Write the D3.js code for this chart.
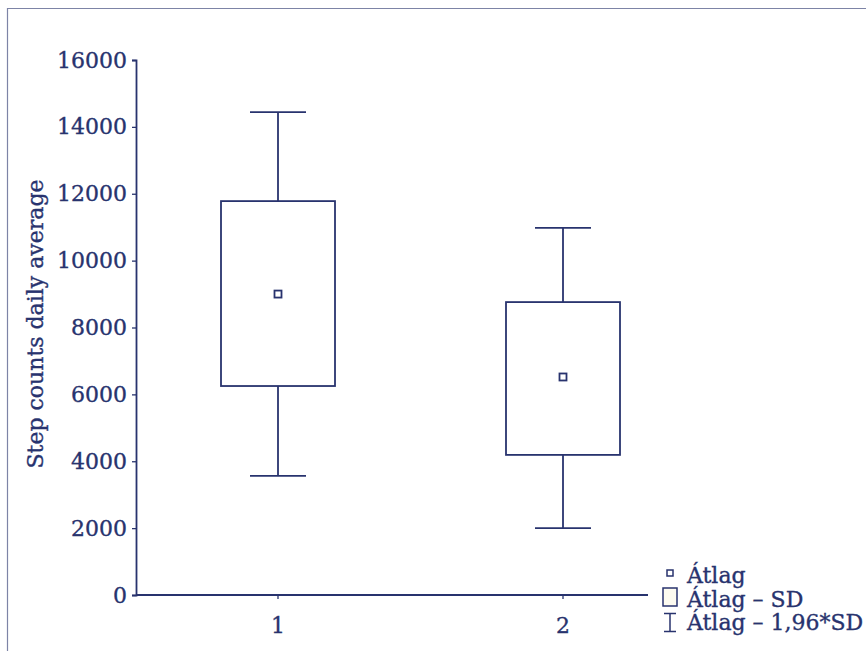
<!DOCTYPE html>
<html>
<head>
<meta charset="utf-8">
<script src="https://cdn.jsdelivr.net/npm/d3@7"></script>
<style>
  body { margin: 0; background: #fff; }
  svg text { font-family: "DejaVu Serif", serif; fill: #28336e; stroke: #28336e; stroke-width: 0.35px; }
</style>
</head>
<body>
<svg id="chart" width="866" height="651"></svg>
<script>
// data
const groups = ['1', '2'];
const means = [9000, 6520];
const sdLow = [6250, 4190];
const sdHigh = [11780, 8760];
const ciLow = [3560, 2000];
const ciHigh = [14440, 10980];
const yTicks = [0, 2000, 4000, 6000, 8000, 10000, 12000, 14000, 16000];
const legendLabels = ['Átlag', 'Átlag – SD', 'Átlag – 1,96*SD'];

const navy = '#28336e';
const lw = 1.8;
const svg = d3.select('#chart');

// outer frame
svg.append('path')
  .attr('d', 'M7.5,651 L7.5,8.5 L866,8.5')
  .attr('fill', 'none')
  .attr('stroke', '#7d84a6')
  .attr('stroke-width', 1.2);

const x = d3.scalePoint().domain(groups).range([278, 563]);
const y = d3.scaleLinear().domain([0, 16000]).range([595, 60]);
const boxW = 114;

// y axis
const yAxis = svg.append('g')
  .attr('transform', 'translate(136,0)')
  .call(d3.axisLeft(y).tickValues(yTicks).tickSize(4).tickPadding(5).tickFormat(d3.format('d')));
yAxis.select('.domain').attr('stroke', navy).attr('stroke-width', lw);
yAxis.selectAll('.tick line').attr('stroke', navy).attr('stroke-width', 1.3);
yAxis.selectAll('.tick text').attr('font-size', 22).attr('font-family', '"DejaVu Serif", serif').attr('fill', navy);

// x axis
svg.append('line')
  .attr('x1', 136).attr('x2', 648).attr('y1', y(0)).attr('y2', y(0))
  .attr('stroke', navy).attr('stroke-width', lw);
const xt = svg.append('g').selectAll('g').data(groups).join('g')
  .attr('transform', d => `translate(${x(d)},${y(0)})`);
xt.append('line').attr('y2', 4).attr('stroke', navy).attr('stroke-width', 1.3);
xt.append('text').attr('y', 38).attr('text-anchor', 'middle').attr('font-size', 22).text(d => d);

// y label
svg.append('text')
  .attr('transform', 'translate(43,324) rotate(-90)')
  .attr('text-anchor', 'middle')
  .attr('font-size', 22)
  .text('Step counts daily average');

// boxes
const g = svg.append('g').selectAll('g').data(groups).join('g');
g.append('line')
  .attr('x1', d => x(d)).attr('x2', d => x(d))
  .attr('y1', (d, i) => y(ciHigh[i])).attr('y2', (d, i) => y(sdHigh[i]))
  .attr('stroke', navy).attr('stroke-width', lw);
g.append('line')
  .attr('x1', d => x(d)).attr('x2', d => x(d))
  .attr('y1', (d, i) => y(sdLow[i])).attr('y2', (d, i) => y(ciLow[i]))
  .attr('stroke', navy).attr('stroke-width', lw);
g.append('line')
  .attr('x1', d => x(d) - 28).attr('x2', d => x(d) + 28)
  .attr('y1', (d, i) => y(ciHigh[i])).attr('y2', (d, i) => y(ciHigh[i]))
  .attr('stroke', navy).attr('stroke-width', lw);
g.append('line')
  .attr('x1', d => x(d) - 28).attr('x2', d => x(d) + 28)
  .attr('y1', (d, i) => y(ciLow[i])).attr('y2', (d, i) => y(ciLow[i]))
  .attr('stroke', navy).attr('stroke-width', lw);
g.append('rect')
  .attr('x', d => x(d) - boxW / 2).attr('width', boxW)
  .attr('y', (d, i) => y(sdHigh[i]))
  .attr('height', (d, i) => y(sdLow[i]) - y(sdHigh[i]))
  .attr('fill', 'none').attr('stroke', navy).attr('stroke-width', lw);
g.append('rect')
  .attr('x', d => x(d) - 3.5).attr('y', (d, i) => y(means[i]) - 3.5)
  .attr('width', 7).attr('height', 7)
  .attr('fill', '#fff').attr('stroke', navy).attr('stroke-width', lw);

// legend
const leg = svg.append('g');
leg.append('rect').attr('x', 667).attr('y', 570).attr('width', 6).attr('height', 6)
  .attr('fill', '#fff').attr('stroke', navy).attr('stroke-width', 1.5);
leg.append('rect').attr('x', 663).attr('y', 588).attr('width', 14).attr('height', 18)
  .attr('fill', '#fdfbf0').attr('stroke', navy).attr('stroke-width', 1.5);
leg.append('path').attr('d', 'M664,613.5 L676,613.5 M670,613.5 L670,631.5 M664,631.5 L676,631.5')
  .attr('fill', 'none').attr('stroke', navy).attr('stroke-width', 1.5);
leg.selectAll('text').data(legendLabels).join('text')
  .attr('x', 687)
  .attr('y', (d, i) => 583 + i * 23.5)
  .attr('font-size', 22)
  .text(d => d);
</script>
</body>
</html>
